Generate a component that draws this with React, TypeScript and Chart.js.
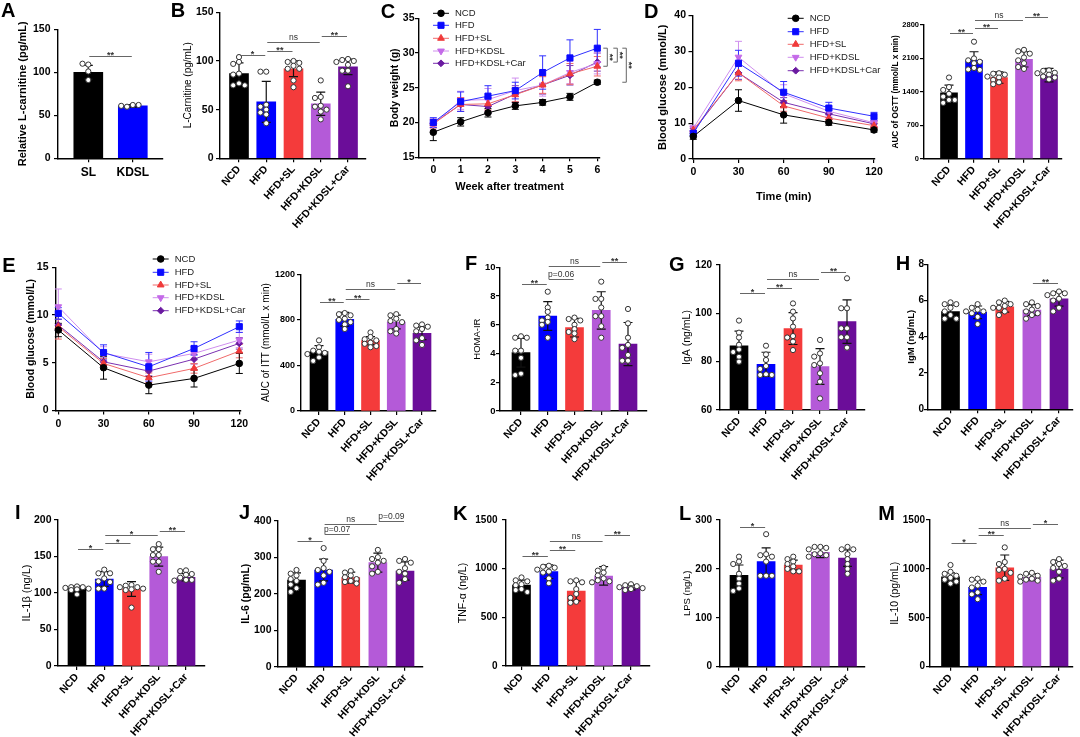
import React, { useEffect, useRef } from 'react';
import { Chart, registerables } from 'chart.js';
import { drawPoint } from 'chart.js/helpers';

Chart.register(...registerables);

const FONT = "'Liberation Sans', Arial, Helvetica, sans-serif";
Chart.defaults.font.family = FONT;
Chart.defaults.color = '#000';

// ------------------------------------------------------------------ data
const GROUPS = ['NCD', 'HFD', 'HFD+SL', 'HFD+KDSL', 'HFD+KDSL+Car'];

// A
const A_LABELS = ['SL', 'KDSL'];
const A_MEAN = [100, 61];
const A_SD = [8, 1.5];
const A_DOTS = [[109, 110, 101, 91], [62, 60, 62, 61]];
const A_SIG = [[0, 1, 119, '**']];

// B
const B_MEAN = [87, 58, 92, 56, 94];
const B_SD = [11, 21, 8, 12, 8];
const B_DOTS = [
  [104, 99, 97, 87, 86, 77, 75, 75],
  [89, 89, 55, 53, 50, 47, 45, 36],
  [100, 99, 98, 95, 92, 92, 80, 73],
  [80, 63, 62, 54, 53, 50, 48, 40],
  [102, 101, 100, 99, 96, 90, 90, 74],
];
const B_SIG = [[0, 1, 106, '*'], [1, 2, 110.6, '**'], [1, 3, 119.9, 'ns'], [3, 4, 125.7, '**']];

// C  (body weight, weeks)
const C_WEEKS = [0, 1, 2, 3, 4, 5, 6];
const C_NCD = [18.6, 20.1, 21.4, 22.4, 22.9, 23.7, 25.8];
const C_HFD = [20.0, 23.0, 23.8, 24.6, 27.2, 29.3, 30.7];
const C_SL = [19.8, 22.6, 22.7, 24.0, 25.4, 27.0, 28.1];
const C_KDSL = [19.7, 23.2, 23.3, 24.6, 25.4, 27.2, 28.5];
const C_CAR = [19.9, 22.6, 22.3, 24.1, 25.4, 26.8, 28.7];
const C_NCD_SD = [1.2, 0.6, 0.6, 0.5, 0.4, 0.5, 0.3];
const C_HFD_SD = [0.7, 1.4, 1.5, 1.2, 2.4, 2.6, 2.7];
const C_SL_SD = [0.6, 1.0, 0.9, 1.0, 1.2, 1.5, 1.4];
const C_KDSL_SD = [0.8, 1.3, 1.6, 1.8, 1.6, 1.6, 1.5];
const C_CAR_SD = [0.6, 1.0, 1.0, 1.2, 1.3, 1.4, 1.3];
const C_SIG = [[2, '**'], [4, '**'], [0, '**']]; // HFD vs series at week 6

// D (OGTT)
const OGTT_T = [0, 30, 60, 90, 120];
const D_NCD = [6.3, 16.3, 12.3, 10.2, 8.1];
const D_HFD = [7.2, 26.7, 18.6, 14.2, 11.9];
const D_SL = [8.1, 24.0, 14.8, 11.4, 9.3];
const D_KDSL = [8.6, 28.4, 18.2, 13.3, 10.1];
const D_CAR = [7.8, 24.0, 15.8, 12.6, 9.8];
const D_NCD_SD = [0.8, 3.0, 2.3, 0.8, 0.6];
const D_HFD_SD = [0.7, 3.6, 3.0, 1.6, 1.1];
const D_SL_SD = [0.8, 2.2, 1.5, 1.0, 0.8];
const D_KDSL_SD = [0.8, 4.4, 2.5, 1.3, 1.0];
const D_CAR_SD = [0.7, 1.8, 1.3, 1.0, 0.8];

const D2_MEAN = [1380, 2060, 1700, 2080, 1750];
const D2_SD = [160, 180, 120, 160, 140];
const D2_DOTS = [
  [1700, 1500, 1440, 1360, 1300, 1230, 1230, 1170],
  [2450, 2100, 2060, 2030, 2000, 1900, 1870, 1860],
  [1790, 1780, 1760, 1720, 1700, 1650, 1600, 1560],
  [2280, 2250, 2200, 2120, 2060, 2000, 1920, 1880],
  [1850, 1840, 1800, 1790, 1760, 1720, 1700, 1660],
];
const D2_SIG = [[0, 1, 2625, '**'], [1, 2, 2730, '**'], [1, 3, 2905, 'ns'], [3, 4, 2975, '**']];

// E (ITT)
const ITT_T = [0, 30, 60, 90, 120];
const E_NCD = [8.43, 4.48, 2.66, 3.36, 4.93];
const E_HFD = [10.17, 6.08, 4.58, 6.5, 8.78];
const E_SL = [8.78, 4.93, 3.43, 4.41, 6.22];
const E_KDSL = [10.87, 5.98, 5.1, 5.98, 7.38];
const E_CAR = [8.95, 5.1, 4.13, 5.38, 7.03];
const E_NCD_SD = [0.7, 1.2, 0.9, 0.9, 1.05];
const E_HFD_SD = [0.6, 0.8, 1.5, 0.7, 0.6];
const E_SL_SD = [1.3, 0.5, 0.5, 0.5, 0.7];
const E_KDSL_SD = [1.86, 0.7, 0.8, 0.7, 0.8];
const E_CAR_SD = [0.6, 0.4, 0.5, 0.5, 0.6];

const E2_MEAN = [521, 805, 618, 781, 682];
const E2_SD = [53, 60, 35, 60, 55];
const E2_DOTS = [
  [620, 560, 530, 520, 510, 500, 470, 440],
  [860, 850, 840, 810, 800, 780, 760, 720],
  [690, 650, 630, 620, 600, 590, 570, 560],
  [850, 840, 810, 790, 780, 720, 700, 680],
  [760, 750, 740, 720, 700, 640, 620, 580],
];
const E2_SIG = [[0, 1, 954, '**'], [1, 2, 983, '**'], [1, 3, 1071, 'ns'], [3, 4, 1121, '*']];

// F
const F_MEAN = [4.06, 6.61, 5.8, 7.0, 4.66];
const F_SD = [1.0, 1.0, 0.65, 1.3, 1.5];
const F_DOTS = [
  [5.2, 5.1, 5.1, 4.2, 4.2, 3.7, 2.6, 2.5],
  [8.3, 7.2, 6.9, 6.5, 6.3, 6.2, 6.0, 5.1],
  [6.5, 6.4, 6.3, 6.0, 5.7, 5.5, 5.4, 5.0],
  [9.0, 7.8, 7.8, 7.2, 6.6, 6.6, 5.9, 5.1],
  [7.1, 6.1, 5.1, 4.6, 4.4, 3.9, 3.5, 3.5],
];
const F_SIG = [[0, 1, 8.86, '**'], [1, 2, 9.21, 'p=0.06'], [1, 3, 10.07, 'ns'], [3, 4, 10.37, '**']];

// G
const G_MEAN = [86.6, 78.9, 93.7, 78.0, 96.6];
const G_SD = [6, 5, 6.6, 7.4, 9];
const G_DOTS = [
  [97, 92, 90, 87, 85, 84, 82, 80],
  [86.6, 83, 80.7, 78.2, 77, 74.8, 74.5, 74.5],
  [104.1, 100.7, 97.9, 94.5, 90.6, 90, 88.3, 84.8],
  [89, 83.4, 82.1, 79.3, 78.6, 75.2, 71.7, 64.8],
  [114.5, 102.1, 102.1, 93.8, 93.8, 90.1, 90.1, 85.8],
];
const G_SIG = [[0, 1, 108.3, '*'], [1, 2, 110.3, '**'], [1, 3, 114.1, 'ns'], [3, 4, 117.2, '**']];

// H
const H_MEAN = [5.39, 5.35, 5.66, 5.48, 6.09];
const H_SD = [0.35, 0.35, 0.3, 0.3, 0.4];
const H_DOTS = [
  [5.9, 5.8, 5.8, 5.6, 5.4, 5.2, 5.0, 5.0],
  [5.8, 5.6, 5.5, 5.4, 5.4, 5.3, 5.1, 4.7],
  [6.0, 5.9, 5.8, 5.7, 5.6, 5.6, 5.4, 5.2],
  [5.9, 5.8, 5.7, 5.5, 5.4, 5.3, 5.2, 5.0],
  [6.5, 6.4, 6.4, 6.3, 6.1, 6.0, 5.6, 5.4],
];
const H_SIG = [[3, 4, 6.99, '**']];

// I
const I_MEAN = [106.4, 119.2, 105.5, 149.8, 121.5];
const I_SD = [3, 10, 10, 13, 5];
const I_DOTS = [
  [109, 108, 108, 107, 106, 105, 104, 98],
  [132, 127, 127, 120, 116, 115, 106, 106],
  [111, 110, 108, 108, 106, 105, 104, 80],
  [167, 160, 160, 152, 152, 143, 143, 129],
  [131, 130, 126, 125, 121, 118, 118, 117],
];
const I_SIG = [[0, 1, 159.8, '*'], [1, 2, 168, '*'], [1, 3, 179.5, '*'], [3, 4, 185.4, '**']];

// J
const J_MEAN = [237, 265, 244, 285, 262];
const J_SD = [20, 30, 15, 26, 25];
const J_DOTS = [
  [265, 255, 250, 240, 235, 225, 215, 205],
  [325, 290, 270, 265, 260, 250, 230, 225],
  [262, 258, 250, 245, 240, 235, 232, 228],
  [320, 300, 295, 290, 285, 275, 260, 255],
  [295, 290, 285, 270, 260, 255, 240, 230],
];
const J_SIG = [[0, 1, 344, '*'], [1, 2, 362.5, 'p=0.07'], [1, 3, 390, 'ns'], [3, 4, 400, 'p=0.09']];

// K
const K_MEAN = [832, 969, 770, 925, 808];
const K_SD = [50, 70, 100, 95, 25];
const K_DOTS = [
  [910, 880, 870, 840, 830, 790, 780, 760],
  [1030, 1020, 1010, 990, 970, 960, 900, 850],
  [880, 870, 860, 790, 740, 700, 660, 650],
  [1010, 980, 960, 930, 900, 880, 870, 860],
  [840, 830, 820, 810, 800, 800, 790, 780],
];
const K_SIG = [[0, 1, 1130, '**'], [1, 2, 1192, '**'], [1, 3, 1284, 'ns'], [3, 4, 1346, '**']];

// L
const L_MEAN = [187, 215, 208, 234, 222];
const L_SD = [21, 28, 10, 11, 17];
const L_DOTS = [
  [225, 215, 210, 190, 180, 170, 160, 155],
  [271, 230, 228, 225, 215, 186, 186, 186],
  [225, 220, 215, 210, 205, 200, 195, 195],
  [245, 245, 243, 240, 232, 230, 228, 225],
  [245, 240, 240, 230, 220, 210, 200, 190],
];
const L_SIG = [[0, 1, 285, '*']];

// M
const M_MEAN = [920, 811, 1012, 914, 999];
const M_SD = [40, 75, 130, 35, 90];
const M_DOTS = [
  [1040, 970, 950, 930, 910, 890, 870, 850],
  [900, 890, 870, 830, 810, 760, 740, 690],
  [1220, 1070, 1050, 1000, 990, 960, 900, 880],
  [960, 950, 930, 920, 900, 890, 880, 870],
  [1100, 1070, 1050, 1030, 1010, 970, 900, 880],
];
const M_SIG = [[0, 1, 1268, '*'], [1, 2, 1347, '**'], [1, 3, 1415, 'ns'], [3, 4, 1456, '*']];

// ------------------------------------------------------------------ styles
const GROUP_COLORS = ['#000000', '#0000ff', '#f43b3b', '#b45ad8', '#6b0d99'];
const A_COLORS = ['#000000', '#0000ff'];
const LINE_STYLE = [
  { color: '#000000', line: '#000000', style: 'circle', rot: 0, r: 3.3 },
  { color: '#0a0aff', line: '#3030ff', style: 'rect', rot: 0, r: 4.3 },
  { color: '#f03a3a', line: '#f06a6a', style: 'triangle', rot: 0, r: 3.9 },
  { color: '#c46ae8', line: '#cf8eee', style: 'triangle', rot: 180, r: 3.9 },
  { color: '#6a1aa0', line: '#7a30b0', style: 'rectRot', rot: 0, r: 3.4 },
];

const grid = { drawOnChartArea: false, drawTicks: true, tickLength: 4, color: '#000', lineWidth: 1.2, offset: false };
const border = { display: true, color: '#000', width: 1.4 };

// ------------------------------------------------------------------ panels
const BAR_PANELS = [
  { labels: A_LABELS, colors: A_COLORS, mean: A_MEAN, sd: A_SD, dots: A_DOTS, sig: A_SIG, yMin: 0, yMax: 150, step: 50,
    title: 'Relative L-carnitine (pg/mL)',
    L: { x0: 58, x1: 163, yTop: 29.3, yBot: 158.3, titleX: 23, c0: 88.3, cN: 132.8, barW: 29, rot: 0, ts: 11, tb: true, xs: 12, ys: 10.5, tp: 3.5 } },
  { labels: GROUPS, colors: GROUP_COLORS, mean: B_MEAN, sd: B_SD, dots: B_DOTS, sig: B_SIG, yMin: 0, yMax: 150, step: 50,
    title: 'L-Carnitine (pg/mL)',
    L: { x0: 220, x1: 366, yTop: 12.3, yBot: 158.3, titleX: 188, c0: 239, cN: 348, barW: 19, rot: 48, ts: 10, tb: false, ys: 10.5, tp: 2.5 } },
  { labels: GROUPS, colors: GROUP_COLORS, mean: D2_MEAN, sd: D2_SD, dots: D2_DOTS, sig: D2_SIG, yMin: 0, yMax: 2800, step: 700,
    title: 'AUC of OGTT (mmol/L x min)',
    L: { x0: 924, x1: 1062, yTop: 25, yBot: 158.7, titleX: 896, c0: 949, cN: 1049, barW: 17, rot: 48, ts: 8.2, tb: true, ys: 7.5, tp: 1 } },
  { labels: GROUPS, colors: GROUP_COLORS, mean: E2_MEAN, sd: E2_SD, dots: E2_DOTS, sig: E2_SIG, yMin: 0, yMax: 1200, step: 400,
    title: 'AUC of ITT (mmol/L x min)',
    L: { x0: 301, x1: 436, yTop: 274.3, yBot: 411, titleX: 266, c0: 319, cN: 422, barW: 18, rot: 48, ts: 10, tb: false, ys: 9, tp: 2 } },
  { labels: GROUPS, colors: GROUP_COLORS, mean: F_MEAN, sd: F_SD, dots: F_DOTS, sig: F_SIG, yMin: 0, yMax: 10, step: 2,
    title: 'HOMA-IR',
    L: { x0: 500, x1: 647, yTop: 267.3, yBot: 411, titleX: 477, c0: 521, cN: 628, barW: 18, rot: 48, ts: 9.5, tb: false, ys: 9.5, tp: 0.5 } },
  { labels: GROUPS, colors: GROUP_COLORS, mean: G_MEAN, sd: G_SD, dots: G_DOTS, sig: G_SIG, yMin: 60, yMax: 120, step: 20,
    title: 'IgA (ng/mL)',
    L: { x0: 720, x1: 865, yTop: 265, yBot: 410, titleX: 687, c0: 739, cN: 847, barW: 18, rot: 48, ts: 10.5, tb: false, ys: 10, tp: 4 } },
  { labels: GROUPS, colors: GROUP_COLORS, mean: H_MEAN, sd: H_SD, dots: H_DOTS, sig: H_SIG, yMin: 0, yMax: 8, step: 2,
    title: 'IgM (ng/mL)',
    L: { x0: 928, x1: 1073, yTop: 264.3, yBot: 409.3, titleX: 911, c0: 950.5, cN: 1059, barW: 18, rot: 48, ts: 9.5, tb: true, ys: 10, tp: 0 } },
  { labels: GROUPS, colors: GROUP_COLORS, mean: I_MEAN, sd: I_SD, dots: I_DOTS, sig: I_SIG, yMin: 0, yMax: 200, step: 50,
    title: 'IL-1β (ng/L)',
    L: { x0: 58, x1: 205, yTop: 520, yBot: 666, titleX: 27, c0: 77, cN: 186, barW: 18, rot: 48, ts: 11, tb: false, ys: 10.5, tp: 2.5 } },
  { labels: GROUPS, colors: GROUP_COLORS, mean: J_MEAN, sd: J_SD, dots: J_DOTS, sig: J_SIG, yMin: 0, yMax: 400, step: 100,
    title: 'IL-6 (pg/mL)',
    L: { x0: 278, x1: 423, yTop: 520.7, yBot: 666.7, titleX: 246, c0: 296.5, cN: 405, barW: 18, rot: 48, ts: 10.5, tb: true, ys: 10.5, tp: 2.5 } },
  { labels: GROUPS, colors: GROUP_COLORS, mean: K_MEAN, sd: K_SD, dots: K_DOTS, sig: K_SIG, yMin: 0, yMax: 1500, step: 500,
    title: 'TNF-α (ng/L)',
    L: { x0: 506, x1: 650, yTop: 520, yBot: 666, titleX: 463, c0: 521.5, cN: 631, barW: 18, rot: 48, ts: 10.5, tb: false, ys: 10, tp: 4.5 } },
  { labels: GROUPS, colors: GROUP_COLORS, mean: L_MEAN, sd: L_SD, dots: L_DOTS, sig: L_SIG, yMin: 0, yMax: 300, step: 100,
    title: 'LPS (ng/L)',
    L: { x0: 720, x1: 865, yTop: 520, yBot: 666.7, titleX: 687, c0: 739, cN: 847.5, barW: 18, rot: 48, ts: 9.5, tb: false, ys: 10, tp: 4 } },
  { labels: GROUPS, colors: GROUP_COLORS, mean: M_MEAN, sd: M_SD, dots: M_DOTS, sig: M_SIG, yMin: 0, yMax: 1500, step: 500,
    title: 'IL-10 (pg/mL)',
    L: { x0: 930, x1: 1073, yTop: 520, yBot: 666.7, titleX: 895, c0: 950.5, cN: 1059, barW: 18, rot: 48, ts: 10.5, tb: false, ys: 10, tp: 1 } },
];

const LINE_PANELS = [
  { xs: C_WEEKS, means: [C_NCD, C_HFD, C_SL, C_KDSL, C_CAR], sds: [C_NCD_SD, C_HFD_SD, C_SL_SD, C_KDSL_SD, C_CAR_SD],
    yMin: 15, yMax: 35, step: 5, title: 'Body weight (g)', xTitle: 'Week after treatment', vsig: C_SIG,
    L: { x0: 419, x1: 600, yTop: 18.3, yBot: 157.3, titleX: 395, ts: 10.5, xTitleY: 187, v0: 0, px0: 433.3, v1: 6, px1: 597.3,
      legX: 441, legY: [13.3, 25.3, 38.3, 51, 63.3], sigDx: [6, 16, 25], tp: 0.5 } },
  { xs: OGTT_T, means: [D_NCD, D_HFD, D_SL, D_KDSL, D_CAR], sds: [D_NCD_SD, D_HFD_SD, D_SL_SD, D_KDSL_SD, D_CAR_SD],
    yMin: 0, yMax: 40, step: 10, title: 'Blood glucose (mmol/L)', xTitle: 'Time (min)', vsig: [],
    L: { x0: 692.5, x1: 875, yTop: 15.5, yBot: 159, titleX: 663, ts: 11, xTitleY: 197, v0: 0, px0: 693.3, v1: 120, px1: 874,
      legX: 795.7, legY: [18.3, 31.7, 44.3, 57.3, 70.7], sigDx: [], tp: 2.5 } },
  { xs: ITT_T, means: [E_NCD, E_HFD, E_SL, E_KDSL, E_CAR], sds: [E_NCD_SD, E_HFD_SD, E_SL_SD, E_KDSL_SD, E_CAR_SD],
    yMin: 0, yMax: 15, step: 5, title: 'Blood glucose (mmol/L)', xTitle: '', vsig: [],
    L: { x0: 56, x1: 241, yTop: 267.3, yBot: 410.5, titleX: 31, ts: 10.5, xTitleY: 0, v0: 0, px0: 58.3, v1: 120, px1: 239.3,
      legX: 160.7, legY: [259, 272.3, 285, 297.7, 310.7], sigDx: [], tp: 3.5 } },
];

const LETTERS = [
  ['A', 2, 3.3], ['B', 171.7, 3.3], ['C', 381.7, 4], ['D', 645, 4],
  ['E', 3.3, 258.3], ['F', 466, 256.7], ['G', 670, 257.3], ['H', 896.7, 256.7],
  ['I', 16, 505], ['J', 240, 505], ['K', 454, 506.7], ['L', 680, 506.7], ['M', 879.3, 506.7],
];

// ------------------------------------------------------------------ helpers
// horizontal spreading of the individual points (layout only)
function swarm(vals: number[], vRange: number, step: number): number[] {
  const placed: { v: number; o: number }[] = [];
  const cands = [0, -1, 1, -2, 2].map((k) => k * step);
  return vals.map((v) => {
    let best = 0;
    let bestClash = Infinity;
    for (const o of cands) {
      const clash = placed.filter((p) => Math.abs(p.o - o) < step * 0.99 && Math.abs(p.v - v) < vRange).length;
      if (clash < bestClash) {
        bestClash = clash;
        best = o;
        if (clash === 0) break;
      }
    }
    placed.push({ v, o: best });
    return best;
  });
}

function drawSigText(ctx: CanvasRenderingContext2D, txt: string, x: number, y: number) {
  const star = txt.indexOf('*') >= 0;
  ctx.fillStyle = '#333';
  ctx.font = star ? `bold 9px ${FONT}` : `8.5px ${FONT}`;
  ctx.textAlign = 'center';
  ctx.textBaseline = 'alphabetic';
  ctx.fillText(txt, x, star ? y + 1.5 : y - 2.5);
}

function barConfig(p: any) {
  const L = p.L;
  const lh = L.ts * 1.2;
  const padLeft = L.titleX - lh / 2;
  const yW = L.x0 - padLeft;
  const n = p.mean.length;
  const sp = (L.cN - L.c0) / (n - 1);
  const xMin = -(L.c0 - L.x0) / sp;
  const xMax = n - 1 + (L.x1 - L.cN) / sp;
  const xH = Math.min(85, 737 - L.yBot - 0.5);
  const pxPerY = (L.yBot - L.yTop) / (p.yMax - p.yMin);
  const dotR = 2.6;
  const vRange = (dotR * 1.6) / pxPerY;
  const jStep = (dotR * 2 + 0.6) / sp;
  const pts: any[] = [];
  p.dots.forEach((arr: number[], i: number) => {
    const offs = swarm(arr, vRange, jStep);
    arr.forEach((v, k) => pts.push({ x: i + offs[k], y: v }));
  });

  const errPlugin = {
    id: 'errbars',
    afterDatasetDraw(chart: any, args: any) {
      if (args.index !== 0) return;
      const { ctx, scales } = chart;
      const x = scales.x, y = scales.y;
      ctx.save();
      ctx.strokeStyle = '#111';
      ctx.lineWidth = 1.2;
      p.mean.forEach((m: number, i: number) => {
        const px = x.getPixelForValue(i);
        const t = y.getPixelForValue(m + p.sd[i]);
        const b = y.getPixelForValue(Math.max(m - p.sd[i], p.yMin));
        ctx.beginPath();
        ctx.moveTo(px, t); ctx.lineTo(px, b);
        ctx.moveTo(px - 4.5, t); ctx.lineTo(px + 4.5, t);
        ctx.moveTo(px - 4.5, b); ctx.lineTo(px + 4.5, b);
        ctx.stroke();
      });
      ctx.restore();
    },
  };
  const sigPlugin = {
    id: 'sigs',
    afterDraw(chart: any) {
      const { ctx, scales } = chart;
      const x = scales.x, y = scales.y;
      ctx.save();
      p.sig.forEach((s: any) => {
        const py = Math.round(y.getPixelForValue(s[2])) + 0.5;
        const xa = x.getPixelForValue(s[0]) + 1;
        const xb = x.getPixelForValue(s[1]) - 1;
        ctx.strokeStyle = '#666';
        ctx.lineWidth = 1;
        ctx.beginPath(); ctx.moveTo(xa, py); ctx.lineTo(xb, py); ctx.stroke();
        drawSigText(ctx, s[3], (xa + xb) / 2, py);
      });
      ctx.restore();
    },
  };

  return {
    type: 'bar',
    data: {
      datasets: [
        { type: 'bar', data: p.mean.map((m: number, i: number) => ({ x: i, y: m })), backgroundColor: p.colors,
          barThickness: L.barW, borderWidth: 0, order: 2 },
        { type: 'scatter', data: pts, pointRadius: dotR, pointBackgroundColor: '#ffffff', pointBorderColor: '#333333',
          pointBorderWidth: 1, order: 1, clip: false },
      ],
    },
    options: {
      responsive: false, animation: false, devicePixelRatio: 1, events: [],
      layout: { padding: { left: padLeft, top: L.yTop, right: 1080 - L.x1, bottom: 737 - L.yBot - xH } },
      plugins: { legend: { display: false }, tooltip: { enabled: false } },
      scales: {
        x: {
          type: 'linear', min: xMin, max: xMax, offset: false,
          afterBuildTicks: (sc: any) => { sc.ticks = p.labels.map((_: string, i: number) => ({ value: i })); },
          afterFit: (sc: any) => { sc.height = xH; },
          ticks: { autoSkip: false, minRotation: L.rot, maxRotation: L.rot, font: { size: L.xs || 10.5, weight: 'bold' },
            color: '#000', padding: L.rot ? 1 : 3, callback: (v: number) => p.labels[v] },
          grid, border,
        },
        y: {
          min: p.yMin, max: p.yMax,
          afterFit: (sc: any) => { sc.width = yW; },
          ticks: { stepSize: p.step, font: { size: L.ys, weight: 'bold' }, color: '#000', padding: L.tp, callback: (v: number) => String(v) },
          grid, border,
          title: { display: true, text: p.title, color: '#000', padding: 0,
            font: { size: L.ts, weight: L.tb ? 'bold' : 'normal' } },
        },
      },
    },
    plugins: [errPlugin, sigPlugin],
  };
}

function lineConfig(p: any) {
  const L = p.L;
  const lh = L.ts * 1.2;
  const padLeft = L.titleX - lh / 2;
  const yW = L.x0 - padLeft;
  const xH = p.xTitle ? L.xTitleY + 6.6 - L.yBot : 28;
  const pxPer = (L.px1 - L.px0) / (L.v1 - L.v0);
  const xMin = L.v0 - (L.px0 - L.x0) / pxPer;
  const xMax = L.v1 + (L.x1 - L.px1) / pxPer;

  const errPlugin = {
    id: 'lineerr',
    beforeDatasetsDraw(chart: any) {
      const { ctx, scales } = chart;
      const x = scales.x, y = scales.y;
      ctx.save();
      ctx.lineWidth = 1;
      for (let s = p.means.length - 1; s >= 0; s--) {
        ctx.strokeStyle = LINE_STYLE[s].line;
        p.means[s].forEach((m: number, i: number) => {
          const px = x.getPixelForValue(p.xs[i]);
          const t = y.getPixelForValue(m + p.sds[s][i]);
          const b = y.getPixelForValue(m - p.sds[s][i]);
          ctx.beginPath();
          ctx.moveTo(px, t); ctx.lineTo(px, b);
          ctx.moveTo(px - 3.5, t); ctx.lineTo(px + 3.5, t);
          ctx.moveTo(px - 3.5, b); ctx.lineTo(px + 3.5, b);
          ctx.stroke();
        });
      }
      ctx.restore();
    },
  };
  const legendPlugin = {
    id: 'leg',
    afterDraw(chart: any) {
      const ctx = chart.ctx;
      ctx.save();
      GROUPS.forEach((g, i) => {
        const st = LINE_STYLE[i];
        const y = L.legY[i];
        ctx.strokeStyle = st.line;
        ctx.lineWidth = 1;
        ctx.beginPath(); ctx.moveTo(L.legX - 8, y); ctx.lineTo(L.legX + 8, y); ctx.stroke();
        ctx.fillStyle = st.color;
        ctx.strokeStyle = st.color;
        drawPoint(ctx, { pointStyle: st.style, rotation: st.rot, radius: st.r, borderWidth: 1 }, L.legX, y);
        ctx.fillStyle = '#222';
        ctx.font = `9.5px ${FONT}`;
        ctx.textAlign = 'left';
        ctx.textBaseline = 'middle';
        ctx.fillText(g, L.legX + 14, y);
      });
      ctx.restore();
    },
  };
  const vsigPlugin = {
    id: 'vsig',
    afterDraw(chart: any) {
      if (!p.vsig.length) return;
      const { ctx, scales } = chart;
      const x = scales.x, y = scales.y;
      const last = p.xs.length - 1;
      const px = x.getPixelForValue(p.xs[last]);
      const yRef = y.getPixelForValue(p.means[1][last]);
      ctx.save();
      p.vsig.forEach((s: any, k: number) => {
        const yT = y.getPixelForValue(p.means[s[0]][last]);
        const xa = px + L.sigDx[k];
        ctx.strokeStyle = '#666';
        ctx.lineWidth = 1;
        ctx.beginPath();
        ctx.moveTo(xa, yRef); ctx.lineTo(xa + 4, yRef); ctx.lineTo(xa + 4, yT); ctx.lineTo(xa, yT);
        ctx.stroke();
        ctx.translate(xa + 6.5, (yRef + yT) / 2);
        ctx.rotate(Math.PI / 2);
        ctx.fillStyle = '#333';
        ctx.font = `bold 9px ${FONT}`;
        ctx.textAlign = 'center';
        ctx.textBaseline = 'middle';
        ctx.fillText(s[1], 0, 0);
        ctx.setTransform(1, 0, 0, 1, 0, 0);
      });
      ctx.restore();
    },
  };

  return {
    type: 'line',
    data: {
      datasets: p.means.map((vals: number[], s: number) => ({
        label: GROUPS[s],
        data: vals.map((v, i) => ({ x: p.xs[i], y: v })),
        borderColor: LINE_STYLE[s].line,
        borderWidth: 1,
        pointStyle: LINE_STYLE[s].style,
        pointRotation: LINE_STYLE[s].rot,
        pointRadius: LINE_STYLE[s].r,
        pointBackgroundColor: LINE_STYLE[s].color,
        pointBorderColor: LINE_STYLE[s].color,
        pointBorderWidth: 1,
        tension: 0,
        clip: false,
      })),
    },
    options: {
      responsive: false, animation: false, devicePixelRatio: 1, events: [],
      layout: { padding: { left: padLeft, top: L.yTop, right: 1080 - L.x1, bottom: 737 - L.yBot - xH } },
      plugins: { legend: { display: false }, tooltip: { enabled: false } },
      scales: {
        x: {
          type: 'linear', min: xMin, max: xMax, offset: false,
          afterBuildTicks: (sc: any) => { sc.ticks = p.xs.map((v: number) => ({ value: v })); },
          afterFit: (sc: any) => { sc.height = xH; },
          ticks: { autoSkip: false, maxRotation: 0, font: { size: 10.5, weight: 'bold' }, color: '#000', padding: 3, callback: (v: number) => String(v) },
          grid, border,
          title: { display: !!p.xTitle, text: p.xTitle, color: '#000', padding: 0, font: { size: 11, weight: 'bold' } },
        },
        y: {
          min: p.yMin, max: p.yMax,
          afterFit: (sc: any) => { sc.width = yW; },
          ticks: { stepSize: p.step, font: { size: 10.5, weight: 'bold' }, color: '#000', padding: L.tp, callback: (v: number) => String(v) },
          grid, border,
          title: { display: true, text: p.title, color: '#000', padding: 0, font: { size: L.ts, weight: 'bold' } },
        },
      },
    },
    plugins: [errPlugin, legendPlugin, vsigPlugin],
  };
}

function ChartCanvas({ make }: { make: () => any }) {
  const ref = useRef<HTMLCanvasElement>(null);
  useEffect(() => {
    const chart = new Chart(ref.current as HTMLCanvasElement, make());
    return () => chart.destroy();
  }, []);
  return (
    <canvas
      ref={ref}
      width={1080}
      height={737}
      style={{ position: 'absolute', left: 0, top: 0, width: 1080, height: 737 }}
    />
  );
}

export default function App() {
  return (
    <div style={{ position: 'absolute', left: 0, top: 0, width: 1080, height: 737, background: '#fff', overflow: 'hidden' }}>
      {BAR_PANELS.map((p, i) => (
        <ChartCanvas key={'b' + i} make={() => barConfig(p)} />
      ))}
      {LINE_PANELS.map((p, i) => (
        <ChartCanvas key={'l' + i} make={() => lineConfig(p)} />
      ))}
      {LETTERS.map((l) => (
        <div
          key={l[0] as string}
          style={{
            position: 'absolute', left: (l[1] as number) - 1, top: (l[2] as number) - 3.4,
            fontFamily: FONT, fontWeight: 700, fontSize: 20, lineHeight: '20px', color: '#000',
          }}
        >
          {l[0]}
        </div>
      ))}
    </div>
  );
}
